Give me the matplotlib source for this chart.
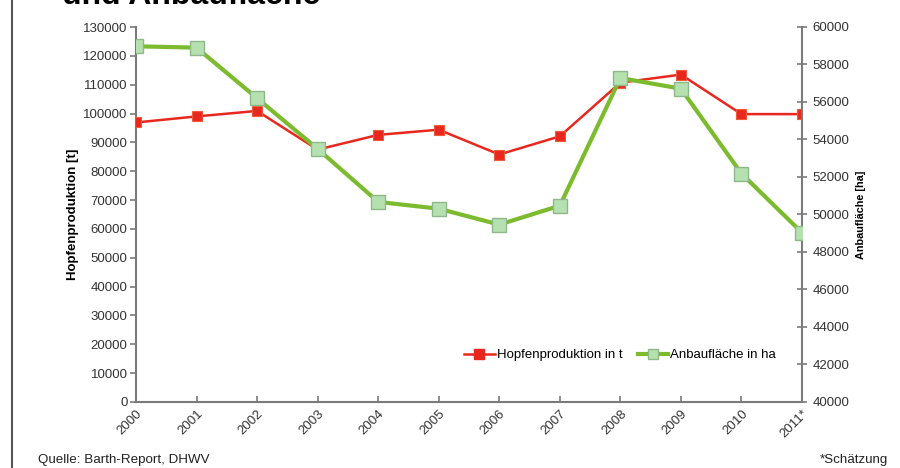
import matplotlib
matplotlib.use("Agg")
import matplotlib.pyplot as plt
from matplotlib.lines import Line2D

plt.rcParams['font.family'] = ['Liberation Sans', 'DejaVu Sans']

years = ["2000", "2001", "2002", "2003", "2004", "2005", "2006", "2007",
         "2008", "2009", "2010", "2011*"]
production_t = [96900, 99000, 100900, 87500, 92600, 94400, 85800, 92100,
                110700, 113500, 99800, 99800]
area_ha = [58970, 58900, 56200, 53500, 50670, 50310, 49460, 50470,
           57280, 56710, 52180, 49030]

red = "#e8281e"
green = "#7cbb2e"
green_fill = "#b5e0b0"
axis_col = "#7a7a7a"
txt_col = "#333333"

fig = plt.figure(figsize=(9, 4.68), dpi=100)
ax = fig.add_axes([136/900, 1-402/468, (802-136)/900, (402-27)/468])
ax2 = ax.twinx()

x = list(range(len(years)))
ax.plot(x, production_t, color=red, lw=1.8, marker='s', ms=7.5,
        mfc=red, mec="#f05a3a", mew=0.8, zorder=3)
ax2.plot(x, area_ha, color=green, lw=3, marker='s', ms=9.5,
         mfc=green_fill, mec="#8fb88a", mew=1.0, zorder=3)

ax.set_xlim(0, len(years)-1)
ax.set_ylim(0, 130000)
ax.set_yticks(range(0, 130001, 10000))
ax2.set_ylim(40000, 60000)
ax2.set_yticks(range(40000, 60001, 2000))

ax.set_xticks(x)
ax.set_xticklabels(years, rotation=45, ha='right', rotation_mode='anchor',
                   fontsize=9.5, color=txt_col)

for a in (ax, ax2):
    for s in a.spines.values():
        s.set_color(axis_col)
        s.set_linewidth(1.5)
    a.spines['top'].set_visible(False)
ax.spines['right'].set_visible(False)
ax2.spines['left'].set_visible(False)
ax2.spines['bottom'].set_visible(False)

ax.tick_params(axis='y', direction='out', length=4, width=1.2, color=axis_col,
               labelsize=9.5, labelcolor=txt_col, pad=2)
ax.tick_params(axis='x', direction='in', length=4, width=1.2, color=axis_col,
               pad=4)
ax2.tick_params(axis='y', direction='inout', length=7, width=1.2, color=axis_col,
                labelsize=9.5, labelcolor=txt_col, pad=4)

ax.set_ylabel("Hopfenproduktion [t]", fontsize=9.5, fontweight='bold', labelpad=3)
ax2.set_ylabel("Anbaufläche [ha]", fontsize=7.8, fontweight='bold', labelpad=5)

handles = [
    Line2D([], [], color=red, lw=1.8, marker='s', ms=6.5, mfc=red, mec=red),
    Line2D([], [], color=green, lw=3, marker='s', ms=7.5, mfc=green_fill, mec="#8fb88a"),
]
ax2.legend(handles, ["Hopfenproduktion in t", "Anbaufläche in ha"], ncol=2,
           frameon=False, fontsize=9.5, loc='center', bbox_to_anchor=(0.727, 0.125),
           handlelength=2.3, handletextpad=0.15, columnspacing=1.2)

fig.text(62/900, 1-4.5/468, "und Anbaufläche", fontsize=23, fontweight='bold',
         ha='left', va='baseline', color="black")
fig.text(38/900, 1-463/468, "Quelle: Barth-Report, DHWV", fontsize=9.6,
         ha='left', va='baseline', color="#222222")
fig.text(888/900, 1-463/468, "*Schätzung", fontsize=9.6,
         ha='right', va='baseline', color="#222222")
fig.add_artist(Line2D([12/900, 12/900], [0, 1], color="#555555", lw=1.5,
                      transform=fig.transFigure))

fig.savefig("out.png", dpi=100)
